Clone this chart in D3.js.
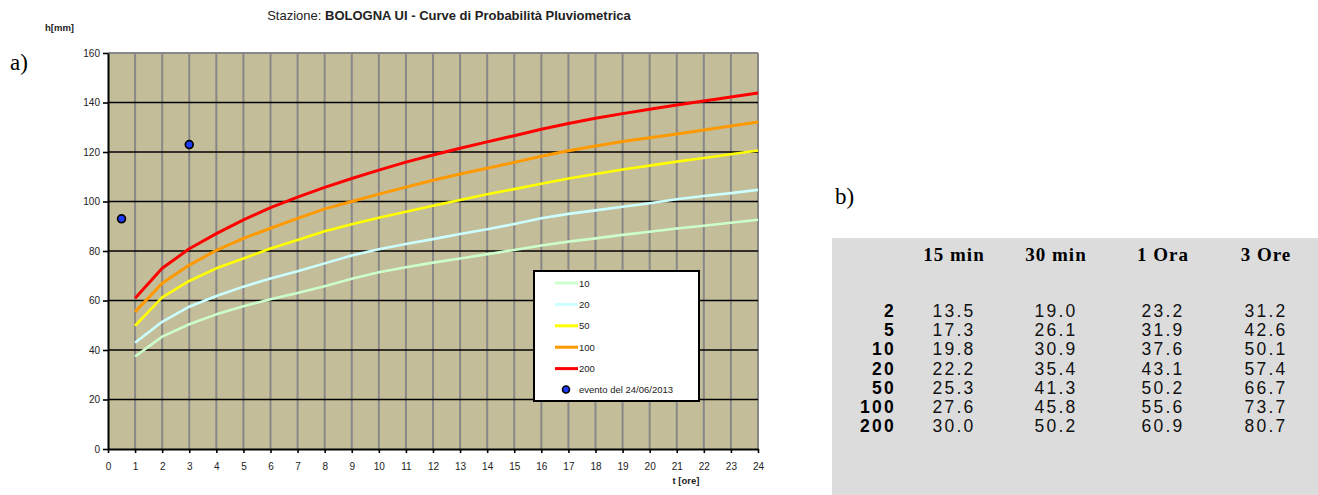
<!DOCTYPE html>
<html>
<head>
<meta charset="utf-8">
<script src="https://cdn.jsdelivr.net/npm/d3@7"></script>
<style>
body { margin: 0; background: #fff; }
svg { display: block; font-family: "Liberation Sans", Arial, sans-serif; }
</style>
</head>
<body>
<div id="chart"></div>
<script>
// durate (ore) e altezze di pioggia
var ore = [1,2,3,4,5,6,7,8,9,10,11,12,13,14,15,16,17,18,19,20,21,22,23,24];
var h10  = [37.4,45.4,50.4,54.4,57.7,60.5,63.0,65.8,68.8,71.4,73.4,75.3,77.0,78.7,80.4,82.2,83.8,85.1,86.5,87.8,89.1,90.2,91.4,92.6];
var h20  = [42.9,51.4,57.5,61.8,65.6,68.9,71.8,75.0,78.2,80.7,82.8,84.8,86.9,88.8,90.9,93.2,95.0,96.4,97.9,99.3,100.9,102.2,103.4,104.7];
var h50  = [49.8,61.3,67.9,73.0,77.0,81.0,84.4,88.0,90.8,93.4,95.9,98.3,100.6,102.9,105.0,107.2,109.3,111.1,112.9,114.5,116.1,117.6,119.1,120.6];
var h100 = [55.4,67.0,74.3,80.3,85.1,89.2,93.2,97.0,100.0,103.0,105.8,108.6,111.1,113.4,115.8,118.3,120.5,122.4,124.2,125.8,127.3,128.9,130.5,132.1];
var h200 = [60.9,73.0,80.9,87.0,92.6,97.5,101.8,105.7,109.3,112.7,115.9,118.8,121.5,124.1,126.6,129.2,131.5,133.6,135.5,137.3,139.0,140.6,142.2,143.8];
var serieNomi = ["10","20","50","100","200"];
var serieColori = ["#ccffcc","#ccffff","#ffff00","#ff9900","#ff0000"];

// evento del 24/06/2013
var eventoT = [0.5, 3];
var eventoH = [93, 123];

var xTicks = d3.range(0, 25);
var yTicks = [0,20,40,60,80,100,120,140,160];

// tabella b)
var durate = ["15 min","30 min","1 Ora","3 Ore"];
var tempiRitorno = ["2","5","10","20","50","100","200"];
var col15 = ["13.5","17.3","19.8","22.2","25.3","27.6","30.0"];
var col30 = ["19.0","26.1","30.9","35.4","41.3","45.8","50.2"];
var col1h = ["23.2","31.9","37.6","43.1","50.2","55.6","60.9"];
var col3h = ["31.2","42.6","50.1","57.4","66.7","73.7","80.7"];

var W = 1318, H = 495;
var pL = 108, pR = 758, pT = 53, pB = 449;

var svg = d3.select('#chart').append('svg')
  .attr('width', W).attr('height', H);

var x = d3.scaleLinear().domain([0,24]).range([pL,pR]);
var y = d3.scaleLinear().domain([0,160]).range([pB,pT]);

// titolo
var title = svg.append('text')
  .attr('x', 449).attr('y', 20)
  .attr('text-anchor','middle')
  .style('font-size','13px').style('fill','#222');
title.append('tspan').text('Stazione:  ');
title.append('tspan').style('font-weight','bold').text('BOLOGNA UI - Curve di Probabilità Pluviometrica');

svg.append('text').attr('x',45).attr('y',31)
  .style('font-size','9.5px').style('font-weight','bold').style('fill','#222')
  .text('h[mm]');

svg.append('text').attr('x',10).attr('y',70)
  .style('font-family','"Liberation Serif","Times New Roman",serif')
  .style('font-size','23px').text('a)');
svg.append('text').attr('x',835).attr('y',204)
  .style('font-family','"Liberation Serif","Times New Roman",serif')
  .style('font-size','23px').text('b)');

// area del grafico
svg.append('rect')
  .attr('x',pL).attr('y',pT)
  .attr('width',pR-pL).attr('height',pB-pT)
  .attr('fill','#c4bd99');

svg.append('g').selectAll('line')
  .data(xTicks.filter(function(d){ return d > 0; }))
  .enter().append('line')
  .attr('x1',function(d){ return x(d); }).attr('x2',function(d){ return x(d); })
  .attr('y1',pT).attr('y2',pB)
  .attr('stroke','#888').attr('stroke-width',2);

svg.append('line')
  .attr('x1',pL).attr('x2',pR).attr('y1',pT).attr('y2',pT)
  .attr('stroke','#888').attr('stroke-width',2);

svg.append('g').selectAll('line')
  .data(yTicks.filter(function(d){ return d > 0 && d < 160; }))
  .enter().append('line')
  .attr('x1',pL).attr('x2',pR)
  .attr('y1',function(d){ return y(d); }).attr('y2',function(d){ return y(d); })
  .attr('stroke','#000').attr('stroke-width',1.6);

// assi
var yAxis = svg.append('g')
  .attr('transform','translate('+pL+',0)')
  .call(d3.axisLeft(y).tickValues(yTicks).tickSize(5).tickPadding(3).tickSizeOuter(0));
var xAxis = svg.append('g')
  .attr('transform','translate(0,'+pB+')')
  .call(d3.axisBottom(x).tickValues(xTicks).tickSize(4).tickPadding(10).tickSizeOuter(0));
[xAxis, yAxis].forEach(function(a){
  a.select('.domain').attr('stroke','#000').attr('stroke-width',2);
  a.selectAll('.tick line').attr('stroke','#000').attr('stroke-width',1.6);
  a.selectAll('.tick text').style('font-size','10px').style('fill','#222')
    .style('font-family','"Liberation Sans", Arial, sans-serif');
});

svg.append('text').attr('x',686).attr('y',484)
  .attr('text-anchor','middle')
  .style('font-size','9.5px').style('font-weight','bold').style('fill','#222')
  .text('t [ore]');

// curve
var serie = [h10,h20,h50,h100,h200];
var line = d3.line()
  .x(function(d,i){ return x(ore[i]); })
  .y(function(d){ return y(d); });
serie.forEach(function(s,k){
  svg.append('path')
    .attr('d', line(s))
    .attr('fill','none')
    .attr('stroke', serieColori[k])
    .attr('stroke-width', k >= 3 ? 3 : 2.6)
    .attr('stroke-linejoin','round');
});

// punti evento
svg.append('g').selectAll('circle')
  .data(eventoT).enter().append('circle')
  .attr('cx',function(d){ return x(d); })
  .attr('cy',function(d,i){ return y(eventoH[i]); })
  .attr('r',3.9)
  .attr('fill','#1f3cff').attr('stroke','#000').attr('stroke-width',1.7);

// legenda
var lg = svg.append('g');
lg.append('rect').attr('x',534).attr('y',271).attr('width',165).attr('height',130)
  .attr('fill','#fff').attr('stroke','#000').attr('stroke-width',2);
serieNomi.forEach(function(n,k){
  var yy = 283 + k*21.4;
  lg.append('line').attr('x1',555).attr('x2',578).attr('y1',yy).attr('y2',yy)
    .attr('stroke',serieColori[k]).attr('stroke-width',3);
  lg.append('text').attr('x',579).attr('y',yy+3.5)
    .style('font-size','9.5px').style('fill','#222').text(n);
});
lg.append('circle').attr('cx',566).attr('cy',389.5).attr('r',3.5)
  .attr('fill','#1f3cff').attr('stroke','#000').attr('stroke-width',1.6);
lg.append('text').attr('x',579).attr('y',393)
  .style('font-size','9.5px').style('fill','#222').text('evento del 24/06/2013');

// tabella
var colX = [953, 1055, 1162, 1265];
var rowY = d3.scaleLinear().domain([0,6]).range([317,432]);
var tb = svg.append('g');
tb.append('rect').attr('x',832).attr('y',238).attr('width',W-832).attr('height',H-238)
  .attr('fill','#dcdcdc');
tb.selectAll('text.hd').data(durate).enter().append('text')
  .attr('class','hd')
  .attr('x',function(d,i){ return colX[i]+1; }).attr('y',261)
  .attr('text-anchor','middle')
  .style('font-family','"Liberation Serif","Times New Roman",serif')
  .style('font-size','19px').style('font-weight','bold').style('letter-spacing','1px')
  .text(function(d){ return d; });
tb.selectAll('text.rl').data(tempiRitorno).enter().append('text')
  .attr('class','rl')
  .attr('x',896).attr('y',function(d,i){ return rowY(i); })
  .attr('text-anchor','end')
  .style('font-size','17.5px').style('font-weight','bold').style('letter-spacing','2.3px')
  .text(function(d){ return d; });
[col15,col30,col1h,col3h].forEach(function(c,j){
  tb.selectAll('text.c'+j).data(c).enter().append('text')
    .attr('class','c'+j)
    .attr('x',colX[j]+1).attr('y',function(d,i){ return rowY(i); })
    .attr('text-anchor','middle')
    .style('font-size','17.5px').style('letter-spacing','2.2px').style('fill','#111')
    .text(function(d){ return d; });
});
</script>
</body>
</html>
